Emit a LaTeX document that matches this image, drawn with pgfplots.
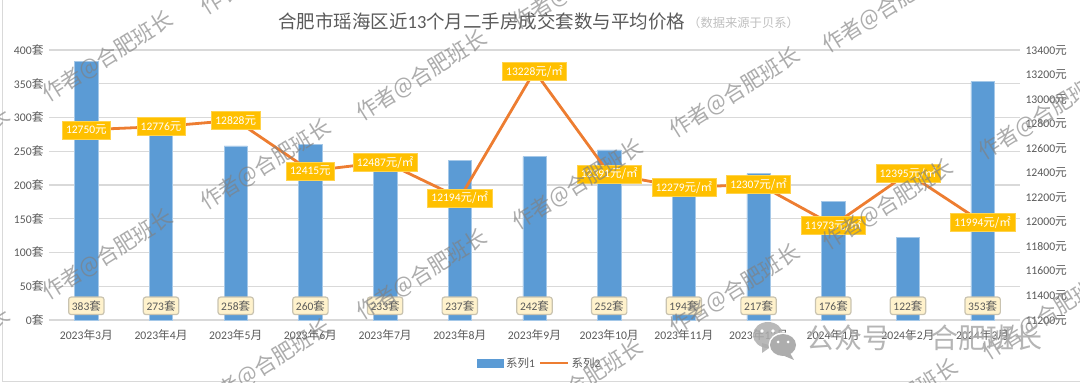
\documentclass[border=0pt]{standalone}
\usepackage{fontspec}
\usepackage{pgfplots}
\pgfplotsset{compat=1.18}
\setmainfont{Carlito}
\newfontfamily\cjk{Noto Sans CJK SC}
\protected\def\C#1{{\cjk #1}}
\protected\def\Yuan{\C{元}}
\protected\def\Ym{\C{元/㎡}}
\protected\def\Tao{\C{套}}
\definecolor{barblue}{HTML}{5B9BD5}
\definecolor{lineorange}{HTML}{ED7D31}
\definecolor{labgold}{HTML}{FFC000}
\definecolor{gridgray}{HTML}{D9D9D9}
\definecolor{txtgray}{HTML}{595959}
\definecolor{boxfill}{HTML}{FFF2CC}
\definecolor{boxedge}{HTML}{C9C3B0}
\begin{document}
\begin{tikzpicture}
\useasboundingbox (0,0) rectangle (1080pt,383pt);
\draw[gridgray,line width=1pt] (2pt,383pt) -- (2pt,1.5pt) -- (1080pt,1.5pt);
% left axis: bars
\begin{axis}[
  at={(49pt,63pt)},anchor=south west,
  width=971pt,height=270pt,scale only axis,
  xmin=-0.5,xmax=12.5,ymin=0,ymax=400,
  ytick={0,50,...,400},
  xtick={0,...,12},
  xticklabels={2023\C{年}3\C{月},2023\C{年}4\C{月},2023\C{年}5\C{月},2023\C{年}6\C{月},2023\C{年}7\C{月},2023\C{年}8\C{月},2023\C{年}9\C{月},2023\C{年}10\C{月},2023\C{年}11\C{月},2023\C{年}12\C{月},2024\C{年}1\C{月},2024\C{年}2\C{月},2024\C{年}3\C{月}},
  yticklabel={\pgfmathprintnumber[assume math mode=true]{\tick}\Tao},
  ymajorgrids,
  grid style={gridgray,line width=1.3pt},
  axis line style={draw=none},
  axis x line*=bottom,
  axis y line*=left,
  major tick style={draw=none},
  tick label style={font=\fontsize{11.7}{13}\selectfont,text=txtgray},
  xticklabel style={yshift=-2pt},
  yticklabel style={xshift=-2pt},
  ybar,bar width=23.4pt,bar shift=0pt,
  legend style={at={(491pt,-43pt)},anchor=center,legend columns=2,draw=none,fill=none,
    inner sep=0pt,
    font=\fontsize{11.5}{13}\selectfont\color{txtgray},
    /tikz/every even column/.append style={column sep=2pt}},
  legend cell align=left,
]
\addplot[fill=barblue,draw=barblue!55!white,line width=0.6pt,
  legend image code/.code={\fill[barblue] (0pt,-4pt) rectangle (26pt,4pt);}] coordinates {
 (0,383)(1,273)(2,258)(3,260)(4,233)(5,237)(6,242)(7,252)(8,194)(9,217)(10,176)(11,122)(12,353)};
\addlegendentry{\C{系列}1}
\addlegendimage{legend image code/.code={\draw[lineorange,line width=2.8pt] (0pt,0pt) -- (28pt,0pt);}}
\addlegendentry{\C{系列}2}
\addplot[draw=none,fill=none,forget plot,
  point meta=explicit symbolic,
  nodes near coords,
  every node near coord/.append style={anchor=center,yshift=0pt,fill=boxfill,
    draw=boxedge,line width=1.2pt,rounded corners=2.5pt,text=txtgray,
    font=\fontsize{11.5}{13}\selectfont,inner xsep=3.2pt,inner ysep=0pt,minimum height=17.5pt}]
 coordinates {
 (0,21)[383\Tao](1,21)[273\Tao](2,21)[258\Tao](3,21)[260\Tao](4,21)[233\Tao](5,21)[237\Tao](6,21)[242\Tao](7,21)[252\Tao](8,21)[194\Tao](9,21)[217\Tao](10,21)[176\Tao](11,21)[122\Tao](12,21)[353\Tao]};
\end{axis}
% right axis: price line
\begin{axis}[
  at={(49pt,63pt)},anchor=south west,
  width=971pt,height=270pt,scale only axis,
  xmin=-0.5,xmax=12.5,ymin=11200,ymax=13400,
  ytick={11200,11400,...,13400},
  axis x line=none,
  axis y line*=right,
  axis line style={draw=none},
  major tick style={draw=none},
  scaled y ticks=false,
  yticklabel={\pgfmathprintnumber[assume math mode=true,set thousands separator={}]{\tick}\Yuan},
  tick label style={font=\fontsize{11.7}{13}\selectfont,text=txtgray},
  yticklabel style={xshift=2pt},
]
\addplot[lineorange,line width=2.8pt,no markers,
  point meta=explicit symbolic,
  nodes near coords,
  every node near coord/.append style={anchor=center,yshift=0pt,fill=labgold,draw=labgold!70!white,line width=0.5pt,
    text=white,font=\fontsize{11.5}{13}\selectfont,inner xsep=3.8pt,inner ysep=0pt,minimum height=18pt}]
 coordinates {
 (0,12750)[12750\Yuan](1,12776)[12776\Yuan](2,12828)[12828\Yuan](3,12415)[12415\Yuan](4,12487)[12487\Ym](5,12194)[12194\Ym](6,13228)[13228\Ym](7,12391)[12391\Ym](8,12279)[12279\Ym](9,12307)[12307\Ym](10,11973)[11973\Ym](11,12395)[12395\Ym](12,11994)[11994\Ym]};
\end{axis}
% title
\node[anchor=west,inner sep=0pt,text=txtgray,font=\fontsize{18.5}{21}\selectfont] at (278pt,361.5pt) {\C{合肥市瑶海区近}13\C{个月二手房成交套数与平均价格}};
\node[anchor=west,inner sep=0pt,text=black!25,font=\fontsize{12.3}{14}\selectfont] at (688pt,360pt) {\C{（数据来源于贝系）}};
% watermarks
\begin{scope}
\clip (0,0) rectangle (1080pt,383pt);
\foreach \x/\y in {108/57,422/76,266/165,735/93,888/8,1044/115,108/255,422/275,266/365,578/185,888/205,735/290,1048/315,578/385,893/405,-55/153,-55/353,266/-30,578/-15}
  \node[rotate=32,text=black!50,opacity=0.65,inner sep=0pt,font=\cjk\fontsize{21.5}{24}\selectfont] at (\x pt,383pt-\y pt) {作者@合肥班长};
\fill[black!32,opacity=0.85] (768pt,48pt) ellipse (15pt and 13pt);
\fill[black!32,opacity=0.85] (772pt,37pt) -- (762pt,30pt) -- (762pt,40pt) -- cycle;
\fill[white] (762pt,52pt) circle (1.8pt) (773pt,52pt) circle (1.8pt);
\fill[white] (783pt,38pt) ellipse (14.5pt and 12.5pt);
\fill[black!32] (783pt,38pt) ellipse (13pt and 11pt);
\fill[black!32] (790pt,30pt) -- (794pt,23pt) -- (782pt,28pt) -- cycle;
\fill[white] (778pt,41pt) circle (1.5pt) (788pt,41pt) circle (1.5pt);
\node[anchor=west,inner sep=0pt,text=black!32,opacity=0.9,font=\cjk\fontsize{28}{30}\selectfont] at (806pt,45pt) {公众号 · 合肥班长};
\end{scope}
\end{tikzpicture}
\end{document}
